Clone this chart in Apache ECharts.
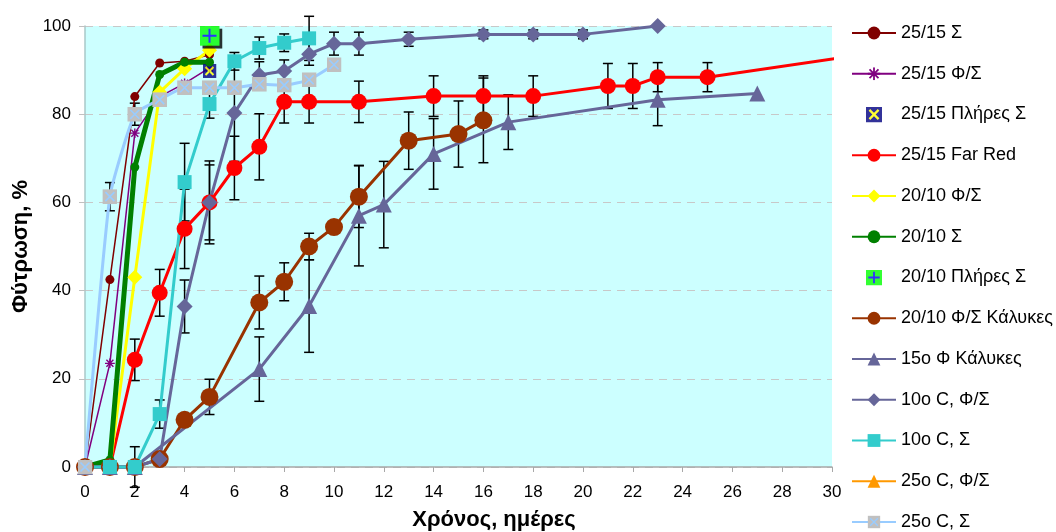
<!DOCTYPE html>
<html><head><meta charset="utf-8">
<script src="https://cdn.jsdelivr.net/npm/echarts@6/dist/echarts.min.js"></script>
<style>html,body{margin:0;padding:0;background:#fff}#c{width:1056px;height:532px}</style>
</head><body><div id="c"></div>
<script>
// ---- data ----
const xTickLabels = [0,2,4,6,8,10,12,14,16,18,20,22,24,26,28,30];
const yTickLabels = [0,20,40,60,80,100];

const names = ['25/15 Σ','25/15 Φ/Σ','25/15 Πλήρες Σ','25/15 Far Red','20/10 Φ/Σ','20/10 Σ','20/10 Πλήρες Σ','20/10 Φ/Σ Κάλυκες','15o Φ Κάλυκες','10o C, Φ/Σ','10o C, Σ','25o C, Φ/Σ','25o C, Σ'];

const s1x = [0,1,2,3,4,5];
const s1y = [0,42.5,84,91.6,92,93.5];

const s2x = [0,1,2,3,4,5];
const s2y = [0,23.5,75.7,84,87,90.5];

const s3x = [5];
const s3y = [89.8];

const s4x = [0,1,2,3,4,5,6,7,8,9,11,14,16,18,21,22,23,25,30.24];
const s4y = [0,0,24.3,39.5,54,60,67.8,72.6,82.8,82.8,82.8,84.1,84.1,84.1,86.4,86.4,88.4,88.4,92.7];
const s4e = [null,null,4.7,5.3,9,8.5,7.2,7.5,4.8,4.8,4.7,4.6,4.6,4.6,5.1,5.1,3.3,3.3,null];

const s5x = [0,1,2,3,4,5];
const s5y = [0,0,43,85,90.3,94.5];

const s6x = [0,1,2,3,4,5];
const s6y = [0,1.6,68,89,91.8,91.8];

const s7x = [5];
const s7y = [97.8];

const s8x = [0,1,2,3,4,5,7,8,9,10,11,13,15,16];
const s8y = [0,0,0,1.8,10.7,15.9,37.3,42,50,54.4,61.3,74,75.5,78.6];
const s8e = [null,null,null,null,null,4,6,4.3,3,null,7,6.5,7.5,9.6];

const s9x = [0,1,2,7,9,11,12,14,17,23,27];
const s9y = [0,0,0,22.2,36.5,57,59.5,71,78.2,83.3,84.7];
const s9e = [null,null,null,7.3,10.5,11.4,9.8,8,6.2,5.9,null];

const s10x = [0,1,2,3,4,5,6,7,8,9,10,11,13,16,18,20,23];
const s10y = [0,0,0,1.8,36.4,60,80.3,88.9,89.8,93.6,96,96,97,98.1,98.1,98.1,100];
const s10e = [null,null,null,null,6,9.4,11,3,2.5,2.5,2.6,2.6,1.6,1,1,1,null];

const s11x = [0,1,2,3,4,5,6,7,8,9];
const s11y = [0,0,0,12,64.6,82.3,92,95,96.2,97.2];
const s11e = [null,null,4.6,3.2,8.8,3.2,2,2.5,2,5];

const s12x = [0];
const s12y = [0];

const s13x = [0,1,2,3,4,5,6,7,8,9,10];
const s13y = [0,61.3,80,83.3,86,86,86,86.8,86.6,87.8,91.2];
const s13e = [null,3.2,2.5,null,null,null,null,null,null,null,null];

// ---- helpers ----
function pairs(xs, ys){ return xs.map((x,i)=>[x, ys[i]]); }
function errs(xs, ys, es){ const out=[]; xs.forEach((x,i)=>{ if(es[i]!=null) out.push([x, ys[i], es[i]]); }); return out; }
function svg(s){ return 'image://data:image/svg+xml;charset=utf-8,' + encodeURIComponent(s); }
const NS = "xmlns='http://www.w3.org/2000/svg'";
const navyX = svg(`<svg ${NS} width='14' height='14' viewBox='0 0 14 14'><rect width='14' height='14' fill='#000080'/><path d='M3 3L11 11M11 3L3 11' stroke='#FFFF00' stroke-width='2'/></svg>`);
const greenPlusShadow = svg(`<svg ${NS} width='23' height='23' viewBox='0 0 23 23'><rect x='3' y='3' width='20' height='20' fill='#000'/><rect width='20' height='20' fill='#00FF00'/><path d='M10 3V17M3 10H17' stroke='#0000FF' stroke-width='2'/></svg>`);
const greenPlus = svg(`<svg ${NS} width='14' height='14' viewBox='0 0 14 14'><rect width='14' height='14' fill='#00FF00'/><path d='M7 2V12M2 7H12' stroke='#0000FF' stroke-width='1.6'/></svg>`);
const star = svg(`<svg ${NS} width='10' height='10' viewBox='0 0 10 10'><path d='M5 0V10M0 5H10M1.5 1.5L8.5 8.5M8.5 1.5L1.5 8.5' stroke='#800080' stroke-width='1.4'/></svg>`);
const greyX = svg(`<svg ${NS} width='15' height='15' viewBox='0 0 15 15'><rect width='15' height='15' fill='#C0C0C0'/><path d='M3 3L12 12M12 3L3 12' stroke='#99CCFF' stroke-width='1.6'/></svg>`);

function lineSeries(name, xs, ys, color, width, symbol, size, extra){
  return Object.assign({
    name, type:'line', data: pairs(xs, ys), symbol, symbolSize: size,
    lineStyle:{color, width}, itemStyle:{color, borderWidth:0},
    showSymbol:true, clip:false, animation:false, emphasis:{disabled:true}, z:2
  }, extra||{});
}
function renderErr(params, api){
  const x = api.value(0), y = api.value(1), e = api.value(2);
  const t = api.coord([x, y+e]), b = api.coord([x, y-e]);
  const cw = 5, st = {stroke:'#000', lineWidth:1.5};
  return {type:'group', children:[
    {type:'line', shape:{x1:t[0],y1:t[1],x2:b[0],y2:b[1]}, style:st},
    {type:'line', shape:{x1:t[0]-cw,y1:t[1],x2:t[0]+cw,y2:t[1]}, style:st},
    {type:'line', shape:{x1:b[0]-cw,y1:b[1],x2:b[0]+cw,y2:b[1]}, style:st}
  ]};
}
function errSeries(xs, ys, es){
  return {type:'custom', renderItem: renderErr, data: errs(xs, ys, es), encode:{x:0,y:1}, clip:false, animation:false, silent:true, z:2};
}

const s4data = pairs(s4x, s4y);
s4data[s4data.length-1] = {value: s4data[s4data.length-1], symbol:'none'};

const series = [
  lineSeries(names[0], s1x, s1y, '#800000', 1.5, 'circle', 9),
  lineSeries(names[1], s2x, s2y, '#800080', 1.5, star, 10),
  {name:names[2], type:'scatter', data:pairs(s3x,s3y), symbol:navyX, symbolSize:14, animation:false, z:2},
  lineSeries(names[3], s4x, s4y, '#FF0000', 3, 'circle', 16, {data:s4data}),
  errSeries(s4x, s4y, s4e),
  lineSeries(names[4], s5x, s5y, '#FFFF00', 3, 'diamond', 15),
  lineSeries(names[5], s6x, s6y, '#008000', 5, 'circle', 9),
  {name:names[6], type:'scatter', data:pairs(s7x,s7y), symbol:greenPlusShadow, symbolSize:23, symbolOffset:[1.5,1.5], animation:false, z:2},
  lineSeries(names[7], s8x, s8y, '#993300', 3, 'circle', 18),
  errSeries(s8x, s8y, s8e),
  lineSeries(names[8], s9x, s9y, '#666699', 3, 'triangle', 16),
  errSeries(s9x, s9y, s9e),
  lineSeries(names[9], s10x, s10y, '#666699', 3, 'diamond', 16),
  errSeries(s10x, s10y, s10e),
  lineSeries(names[10], s11x, s11y, '#33CCCC', 3, 'rect', 14),
  errSeries(s11x, s11y, s11e),
  lineSeries(names[11], s12x, s12y, '#FF9900', 3, 'triangle', 12),
  lineSeries(names[12], s13x, s13y, '#99CCFF', 3, greyX, 15, {smooth:0.15}),
  errSeries(s13x, s13y, s13e)
];

const FONT = "'Liberation Sans', Arial, sans-serif";
const legendData = names.map(n => {
  if (n === names[2]) return {name:n, icon: navyX};
  if (n === names[6]) return {name:n, icon: greenPlus};
  return {name:n};
});

const chart = echarts.init(document.getElementById('c'), null, {renderer:'canvas'});
chart.setOption({
  animation:false,
  backgroundColor:'#ffffff',
  textStyle:{fontFamily:FONT},
  grid:{left:85, right:224, top:26, bottom:65, show:true, backgroundColor:'#CCFFFF', borderWidth:0, containLabel:false, outerBoundsMode:'none'},
  legend:{
    data: legendData, orient:'vertical', left:851, top:24, padding:0,
    itemWidth:44, itemHeight:16, itemGap:22.75, selectedMode:false,
    textStyle:{fontSize:18, color:'#000', fontFamily:FONT, lineHeight:18}
  },
  xAxis:{
    type:'value', min:0, max:30, interval:2,
    name:'Χρόνος, ημέρες', nameLocation:'middle', nameGap:42,
    nameTextStyle:{fontSize:22, fontWeight:'bold', color:'#000', fontFamily:FONT, padding:[0,0,0,71]},
    axisLine:{show:true, lineStyle:{color:'#A8A8A8', width:1.5}},
    axisTick:{show:true, length:5, lineStyle:{color:'#A8A8A8'}},
    axisLabel:{fontSize:17, color:'#000', margin:17, fontFamily:FONT,
      formatter: v => xTickLabels.includes(v) ? String(v) : ''},
    splitLine:{show:false}
  },
  yAxis:{
    type:'value', min:0, max:100, interval:20,
    name:'Φύτρωση, %', nameLocation:'middle', nameGap:47,
    nameTextStyle:{fontSize:22, fontWeight:'bold', color:'#000', fontFamily:FONT},
    axisLine:{show:true, lineStyle:{color:'#A8C8C8', width:1.5}},
    axisTick:{show:true, length:6, lineStyle:{color:'#C0C0C0'}},
    axisLabel:{fontSize:17, color:'#000', margin:14, fontFamily:FONT,
      formatter: v => yTickLabels.includes(v) ? String(v) : ''},
    splitLine:{show:true, lineStyle:{color:'#C8C8C8', type:[8,6], width:1}}
  },
  series
});
</script></body></html>
